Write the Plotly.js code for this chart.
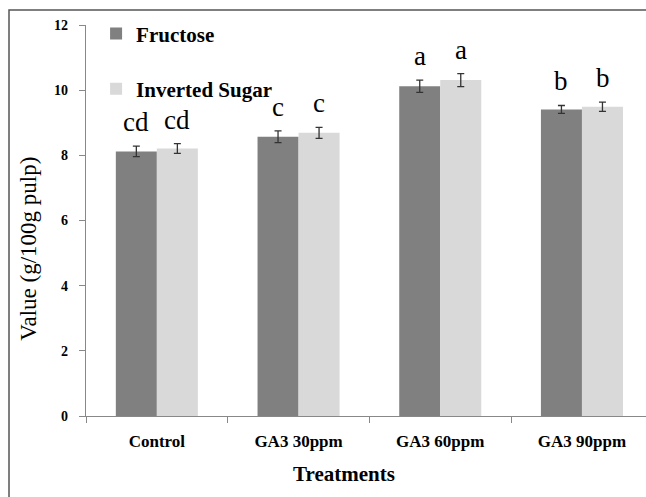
<!DOCTYPE html>
<html><head><meta charset="utf-8">
<script src="https://cdn.plot.ly/plotly-3.0.1.min.js"></script>
<style>html,body{margin:0;padding:0;background:#fff}#chart{width:646px;height:497px}</style>
</head><body><div id="chart"></div>
<script>
const categories = ["Control", "GA3 30ppm", "GA3 60ppm", "GA3 90ppm"];
const fructose = [8.12, 8.57, 10.12, 9.41];
const fructoseErr = [0.16, 0.18, 0.19, 0.12];
const inverted = [8.21, 8.69, 10.31, 9.49];
const invertedErr = [0.15, 0.17, 0.2, 0.14];
const fructoseLetters = ["cd", "c", "a", "b"];
const invertedLetters = ["cd", "c", "a", "b"];
const xTitle = "Treatments";
const yTitle = "Value (g/100g pulp)";

const serif = "Liberation Serif";

const traces = [
  {type: "bar", name: "Fructose", x: categories, y: fructose,
   marker: {color: "#808080"}, legendgroup: "f",
   error_y: {type: "data", array: fructoseErr, visible: true, color: "#333", thickness: 1.3, width: 3.5}},
  {type: "bar", name: "Inverted Sugar", x: categories, y: inverted,
   marker: {color: "#d9d9d9"}, legendgroup: "i",
   error_y: {type: "data", array: invertedErr, visible: true, color: "#333", thickness: 1.3, width: 3.5}}
];

const annotations = [];
categories.forEach((c, i) => {
  annotations.push({x: i - 0.145, y: fructose[i] + fructoseErr[i], xref: "x", yref: "y",
    text: fructoseLetters[i], showarrow: false, yanchor: "bottom", yshift: 7,
    font: {family: serif, size: 27, color: "#000"}});
  annotations.push({x: i + 0.145, y: inverted[i] + invertedErr[i], xref: "x", yref: "y",
    text: invertedLetters[i], showarrow: false, yanchor: "bottom", yshift: 7,
    font: {family: serif, size: 27, color: "#000"}});
});
annotations.push({x: 0.4607, y: -0.1494, xref: "paper", yref: "paper", xanchor: "center", yanchor: "middle",
  text: xTitle, showarrow: false, font: {family: serif, size: 21, color: "#000", weight: "bold"}});
annotations.push({x: -0.1018, y: 0.428, xref: "paper", yref: "paper", xanchor: "center", yanchor: "middle",
  textangle: -90, text: yTitle, showarrow: false, font: {family: serif, size: 23, color: "#000"}});

const layout = {
  width: 646, height: 497,
  font: {family: serif, color: "#000"},
  margin: {l: 86, r: 0, t: 25, b: 80.5},
  paper_bgcolor: "#fff", plot_bgcolor: "#fff",
  barmode: "group", bargap: 0.421, bargroupgap: 0,
  showlegend: true,
  legend: {x: 0.018, y: 1.03, xanchor: "left", yanchor: "top", traceorder: "grouped",
    tracegroupgap: 25, bgcolor: "rgba(0,0,0,0)", itemwidth: 30,
    font: {family: serif, size: 21, color: "#000", weight: "bold"}},
  xaxis: {range: [-0.5, 3.452], showline: true, linecolor: "#888", linewidth: 1.3,
    ticks: "outside", tickson: "boundaries", ticklen: 6, tickcolor: "#888",
    tickfont: {family: serif, size: 17, color: "#000", weight: "bold"},
    ticklabelstandoff: 9,
    showgrid: false, zeroline: false, fixedrange: true},
  yaxis: {range: [0, 12], dtick: 2, showline: true, linecolor: "#888", linewidth: 1.3,
    ticks: "outside", ticklen: 6, tickcolor: "#888",
    tickfont: {family: serif, size: 14, color: "#000", weight: "bold"},
    ticklabelstandoff: 8,
    showgrid: false, zeroline: false, fixedrange: true},
  annotations: annotations,
  shapes: [{type: "rect", xref: "paper", yref: "paper", x0: -0.1375, x1: 1.2, y0: -0.3, y1: 1.0383,
    line: {color: "#555", width: 1.5}, fillcolor: "rgba(0,0,0,0)", layer: "above"}]
};

Plotly.newPlot("chart", traces, layout, {displayModeBar: false, staticPlot: true});
</script></body></html>
